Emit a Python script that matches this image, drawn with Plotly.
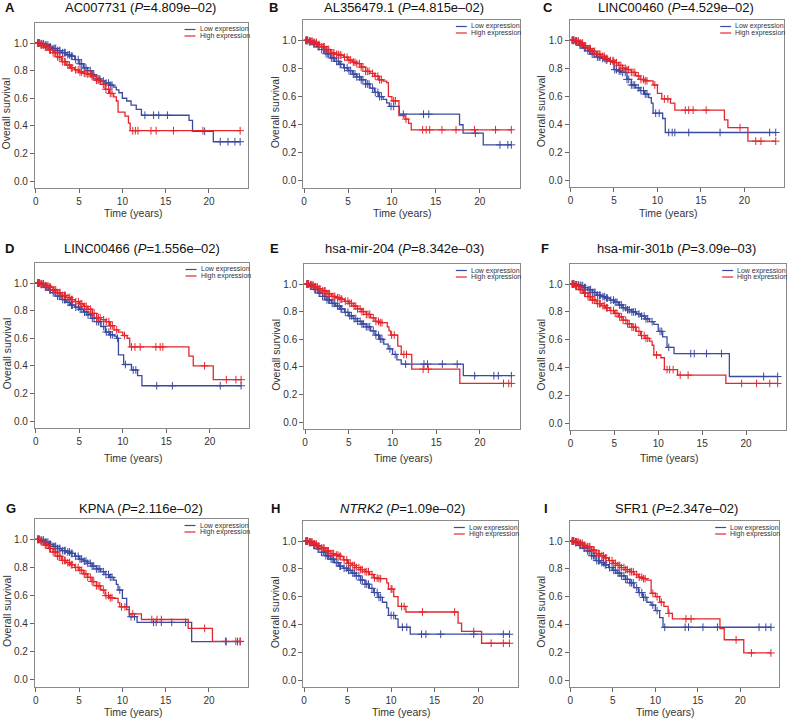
import numpy as np
import plotly.graph_objects as go

# ---------------- data ----------------
EARLY_T = [0.0, 0.5, 1.0, 1.5, 2.0, 2.5, 3.0, 3.5, 4.0, 4.5, 5.0, 5.5, 6.0, 6.5, 7.0, 7.5, 8.0, 8.5, 9.0]
EARLY_CENSOR = [0.2, 0.3, 0.4, 0.6, 0.7, 0.9, 1.1, 1.2, 1.4, 1.6, 1.7, 2.0, 2.2, 2.3, 2.5, 2.7, 2.8, 3.1,
                3.3, 3.4, 3.7, 3.9, 4.1, 4.2, 4.6, 4.9, 5.1, 5.3, 5.6, 5.8, 6.0, 6.3, 6.5, 6.7, 7.0, 7.2,
                7.4, 7.8, 8.1, 8.4, 8.6, 8.8]
END_T = 23.6

LETTERS = ["A", "B", "C", "D", "E", "F", "G", "H", "I"]
GENES = ["AC007731", "AL356479.1", "LINC00460", "LINC00466", "hsa-mir-204",
         "hsa-mir-301b", "KPNA", "<i>NTRK2</i>", "SFR1"]
P_VALUES = ["4.809e–02", "4.815e–02", "4.529e–02", "1.556e–02", "8.342e–03",
            "3.09e–03", "2.116e–02", "1.09e–02", "2.347e–02"]
SERIES_NAMES = ["Low expression", "High expression"]

# A
A_low_s = [1, .995, .985, .97, .96, .945, .93, .915, .905, .88, .85, .82, .80, .77, .74, .725, .71, .695, .68]
A_low_t2 = [9.3, 9.6, 10.0, 10.5, 11.0, 11.6, 12.2, 17.7, 18.1, 20.5]
A_low_s2 = [.66, .64, .60, .58, .55, .52, .477, .44, .36, .285]
A_low_cens = [12.6, 13.6, 14.2, 15.2, 19.5, 21.3, 22.2, 23.0, 23.6]
A_high_s = [1, .985, .97, .95, .93, .90, .865, .84, .82, .805, .79, .78, .775, .76, .73, .70, .665, .635, .61]
A_high_t2 = [9.3, 9.5, 10.3, 10.7, 10.9]
A_high_s2 = [.58, .50, .47, .42, .365]
A_high_cens = [11.2, 11.5, 11.8, 13.3, 13.9, 15.9, 19.3, 23.6]
# B
B_low_s = [1, .99, .975, .955, .935, .905, .875, .85, .83, .805, .785, .76, .74, .72, .69, .66, .63, .60, .58]
B_low_t2 = [9.4, 9.7, 10.85, 17.7, 18.1, 20.4]
B_low_s2 = [.555, .53, .475, .40, .34, .257]
B_low_cens = [9.9, 10.2, 11.3, 13.6, 14.2, 19.5, 22.3, 23.2, 23.6]
B_high_s = [1, .995, .985, .97, .955, .935, .91, .90, .895, .88, .86, .845, .835, .81, .78, .765, .745, .72, .71]
B_high_t2 = [9.4, 9.6, 10.0, 10.8, 11.5, 11.9, 12.2]
B_high_s2 = [.70, .60, .57, .465, .44, .41, .364]
B_high_cens = [10.2, 10.4, 11.6, 13.5, 13.9, 14.3, 15.7, 17.3, 19.4, 21.8, 23.6]
# C
C_low_s = [1, .99, .965, .945, .925, .90, .88, .87, .86, .85, .79, .78, .77, .72, .68, .66, .64, .615, .59]
C_low_t2 = [9.3, 9.5, 10.6, 10.9]
C_low_s2 = [.55, .478, .44, .34]
C_low_cens = [9.8, 10.2, 11.3, 11.7, 12.0, 13.6, 17.2, 22.9, 23.6]
C_high_s = [1, .995, .98, .96, .94, .92, .90, .885, .87, .855, .84, .82, .80, .79, .77, .745, .72, .71, .71]
C_high_t2 = [9.5, 10.0, 10.5, 11.5, 12.0, 17.7, 18.1, 20.4]
C_high_s2 = [.68, .62, .58, .55, .50, .43, .375, .278]
C_high_cens = [9.7, 10.8, 11.2, 13.2, 13.6, 14.1, 15.6, 19.5, 21.3, 21.9, 23.6]
# D
D_low_s = [1, .99, .97, .95, .93, .905, .88, .86, .84, .825, .81, .79, .77, .745, .72, .685, .645, .625, .615]
D_low_t2 = [9.3, 9.5, 10.1, 11.0, 11.7, 12.2]
D_low_s2 = [.60, .48, .41, .37, .33, .256]
D_low_cens = [9.4, 10.3, 11.2, 11.5, 13.9, 15.7, 21.2, 23.6]
D_high_s = [1, .995, .98, .97, .95, .93, .91, .895, .88, .865, .85, .83, .81, .78, .75, .735, .72, .69, .66]
D_high_t2 = [9.5, 10.0, 10.5, 10.8, 17.6, 18.1, 20.4]
D_high_s2 = [.645, .62, .60, .537, .47, .40, .30]
D_high_cens = [9.3, 10.2, 11.0, 11.4, 12.0, 13.8, 14.3, 14.6, 19.4, 21.9, 23.0, 23.6]
# E
E_low_s = [1, .985, .96, .935, .91, .885, .86, .84, .82, .795, .77, .75, .73, .71, .69, .66, .63, .60, .565]
E_low_t2 = [9.5, 10.0, 10.5, 11.0, 18.1]
E_low_s2 = [.53, .49, .45, .42, .336]
E_low_cens = [9.7, 10.3, 11.5, 13.6, 14.0, 15.7, 17.4, 19.4, 21.6, 22.1, 23.6]
E_high_s = [1, .995, .98, .965, .95, .93, .91, .90, .89, .875, .86, .84, .82, .80, .78, .755, .73, .72, .72]
E_high_t2 = [9.4, 9.6, 9.8, 10.6, 11.0, 12.2, 17.7]
E_high_s2 = [.69, .66, .63, .55, .49, .383, .28]
E_high_cens = [9.9, 10.2, 11.3, 11.6, 13.5, 14.1, 22.7, 23.3, 23.6]
# F
F_low_s = [1, .995, .99, .975, .96, .94, .92, .91, .90, .885, .87, .85, .83, .815, .80, .785, .77, .75, .73]
F_low_t2 = [9.5, 10.0, 10.5, 11.0, 11.8, 18.1]
F_low_s2 = [.71, .66, .62, .545, .50, .335]
F_low_cens = [9.3, 10.2, 10.4, 11.2, 13.7, 14.1, 15.5, 17.2, 22.0, 23.6]
F_high_s = [1, .985, .96, .935, .91, .885, .86, .845, .83, .81, .79, .765, .74, .715, .69, .66, .63, .61, .59]
F_high_t2 = [9.3, 9.5, 10.3, 10.7, 12.2, 17.7]
F_high_s2 = [.56, .49, .47, .385, .345, .285]
F_high_cens = [9.8, 11.0, 11.3, 11.7, 12.5, 13.4, 19.5, 21.2, 22.7, 23.6]
# G
G_low_s = [1, .995, .98, .965, .95, .935, .92, .91, .90, .88, .86, .845, .83, .81, .79, .77, .75, .73, .71]
G_low_t2 = [9.3, 9.5, 10.0, 10.5, 10.8, 11.7, 18.0]
G_low_s2 = [.68, .64, .58, .52, .45, .41, .273]
G_low_cens = [9.7, 11.0, 11.4, 13.6, 13.9, 14.5, 15.7, 17.3, 22.0, 23.3, 23.6]
G_high_s = [1, .985, .96, .935, .91, .88, .85, .835, .82, .80, .78, .755, .73, .70, .67, .64, .60, .585, .58]
G_high_t2 = [9.5, 9.7, 10.5, 10.8, 12.2, 17.6, 20.4]
G_high_s2 = [.55, .52, .50, .47, .43, .367, .275]
G_high_cens = [9.9, 10.3, 11.2, 13.4, 14.0, 14.5, 19.5, 21.9, 23.1, 23.6]
# H
H_low_s = [1, .99, .97, .945, .92, .895, .87, .845, .82, .805, .79, .77, .75, .72, .69, .66, .63, .595, .56]
H_low_t2 = [9.5, 9.7, 10.5, 10.8, 12.2]
H_low_s2 = [.52, .465, .44, .38, .33]
H_low_cens = [10.0, 10.3, 11.3, 11.8, 13.5, 14.0, 15.7, 19.5, 22.9, 23.6]
H_high_s = [1, .995, .98, .965, .95, .93, .91, .90, .89, .865, .84, .825, .81, .795, .78, .76, .735, .73, .73]
H_high_t2 = [9.5, 9.7, 10.3, 10.8, 11.7, 17.7, 18.1, 20.4]
H_high_s2 = [.70, .655, .60, .53, .49, .41, .35, .265]
H_high_cens = [10.0, 10.1, 11.2, 11.5, 13.6, 17.3, 19.5, 21.5, 22.9, 23.6]
# I
I_low_s = [1, .99, .97, .95, .93, .895, .86, .845, .83, .81, .79, .77, .75, .725, .70, .665, .63, .595, .56]
I_low_t2 = [9.5, 10.0, 10.5, 10.9]
I_low_s2 = [.54, .50, .45, .38]
I_low_cens = [9.7, 10.2, 11.1, 13.5, 13.9, 15.6, 17.3, 22.2, 23.0, 23.6]
I_high_s = [1, .995, .985, .97, .96, .935, .91, .895, .88, .86, .84, .825, .81, .795, .78, .76, .74, .73, .72]
I_high_t2 = [9.5, 10.0, 10.5, 11.0, 11.5, 12.0, 17.6, 18.1, 20.4]
I_high_s2 = [.625, .60, .56, .53, .48, .44, .37, .29, .195]
I_high_cens = [9.7, 10.2, 10.7, 11.6, 13.6, 14.2, 19.5, 21.3, 23.6]

g = globals()
PANELS = []
for L in LETTERS:
    PANELS.append({
        "low": (g[f"{L}_low_s"], g[f"{L}_low_t2"], g[f"{L}_low_s2"], g[f"{L}_low_cens"]),
        "high": (g[f"{L}_high_s"], g[f"{L}_high_t2"], g[f"{L}_high_s2"], g[f"{L}_high_cens"]),
    })

# ---------------- layout constants (pixels) ----------------
W, H = 788, 719
BOXES = [  # left, right, top, bottom
    (33, 247, 23, 188), (302, 519, 20, 188), (569, 784, 20, 187),
    (33, 248, 263, 428), (303, 519, 264, 429), (569, 786, 264, 430),
    (33, 247, 519, 687), (302, 517, 521, 687), (569, 779, 521, 687),
]
TITLE_X = [139, 403, 676, 140, 404, 676, 139, 402, 676]
TITLE_Y = [7, 7, 7, 248, 248, 248, 508, 508, 508]
LETTER_X = [8, 272, 547, 8, 273, 544, 9, 274, 545]
YTITLE_X = [5, 274, 540, 5, 274, 540, 5, 274, 540]
XTITLE_Y = [213, 213, 213, 458, 458, 458, 712, 712, 712]
BLUE = "#3A4AA0"
RED = "#E4262C"
COLORS = [BLUE, RED]
FONT = "Liberation Sans, Arial, sans-serif"


def px(x):
    return x / W


def py(y):
    return 1 - y / H


def build_curve(early, t2, s2):
    t = list(EARLY_T) + list(t2) + [END_T]
    s = list(early) + list(s2) + [s2[-1]]
    return np.array(t), np.array(s)


def lookup(t, s, tc):
    idx = np.searchsorted(t, tc, side="right") - 1
    return s[np.clip(idx, 0, len(s) - 1)]


fig = go.Figure()
annotations = []
shapes = []

for i, (panel, box) in enumerate(zip(PANELS, BOXES)):
    n = "" if i == 0 else str(i + 1)
    xa, ya = "x" + n, "y" + n
    for k, key in enumerate(["low", "high"]):
        early, t2, s2, cens = panel[key]
        t, s = build_curve(early, t2, s2)
        col = COLORS[k]
        fig.add_trace(go.Scatter(x=t, y=s, mode="lines", line=dict(color=col, width=1.3, shape="hv"),
                                 xaxis=xa, yaxis=ya, showlegend=False, hoverinfo="skip"))
        ct = np.array(list(EARLY_CENSOR) + list(cens))
        cy = lookup(t, s, ct)
        fig.add_trace(go.Scatter(x=ct, y=cy, mode="markers",
                                 marker=dict(symbol="cross-thin", size=5.5, line=dict(width=1, color=col), color=col),
                                 xaxis=xa, yaxis=ya, showlegend=False, hoverinfo="skip"))
    l, r, t_, b = box
    axis_common = dict(showline=True, mirror=True, linecolor="#8a8a8a", linewidth=1, ticks="outside",
                       ticklen=4, tickcolor="#666", tickfont=dict(family=FONT, size=10, color="#333"),
                       showgrid=False, zeroline=False)
    fig.update_layout(**{
        ("xaxis" + n): dict(domain=[px(l), px(r)], range=[-0.1, 24.55], tickvals=[0, 5, 10, 15, 20],
                            anchor=ya, **axis_common),
        ("yaxis" + n): dict(domain=[py(b), py(t_)], range=[-0.05, 1.145],
                            tickvals=[0, 0.2, 0.4, 0.6, 0.8, 1.0], tickformat=".1f", anchor=xa, **axis_common),
    })
    # texts
    annotations.append(dict(x=px(TITLE_X[i]), y=py(TITLE_Y[i]), xref="paper", yref="paper",
                            text=f"{GENES[i]} (<i>P</i>={P_VALUES[i]})", showarrow=False,
                            xanchor="center", yanchor="middle", font=dict(family=FONT, size=13, color="#111")))
    annotations.append(dict(x=px(LETTER_X[i]), y=py(TITLE_Y[i]), xref="paper", yref="paper",
                            text=f"<b>{LETTERS[i]}</b>", showarrow=False,
                            xanchor="center", yanchor="middle", font=dict(family=FONT, size=13, color="#111")))
    annotations.append(dict(x=px(YTITLE_X[i]), y=py((t_ + b) / 2 + 8), xref="paper", yref="paper",
                            text="Overall survival", showarrow=False, textangle=-90,
                            xanchor="center", yanchor="middle", font=dict(family=FONT, size=10.5, color="#333")))
    annotations.append(dict(x=px(l + 0.46 * (r - l)), y=py(XTITLE_Y[i]), xref="paper", yref="paper",
                            text="Time (years)", showarrow=False,
                            xanchor="center", yanchor="middle", font=dict(family=FONT, size=10.5, color="#333")))
    # legend
    for k in range(2):
        yy = t_ + 6.5 + 6.5 * k
        shapes.append(dict(type="line", xref="paper", yref="paper", x0=px(r - 64), x1=px(r - 53),
                           y0=py(yy), y1=py(yy), line=dict(color=COLORS[k], width=1.2)))
        annotations.append(dict(x=px(r - 51), y=py(yy), xref="paper", yref="paper",
                                text=SERIES_NAMES[k], showarrow=False, xanchor="left", yanchor="middle",
                                font=dict(family=FONT, size=7, color="#333")))

fig.update_layout(width=W, height=H, margin=dict(l=0, r=0, t=0, b=0),
                  paper_bgcolor="white", plot_bgcolor="white",
                  annotations=annotations, shapes=shapes, showlegend=False)

fig.write_html("out.html", config={"displayModeBar": False},
               post_script="document.body.style.margin='0';document.body.style.overflow='hidden';")
